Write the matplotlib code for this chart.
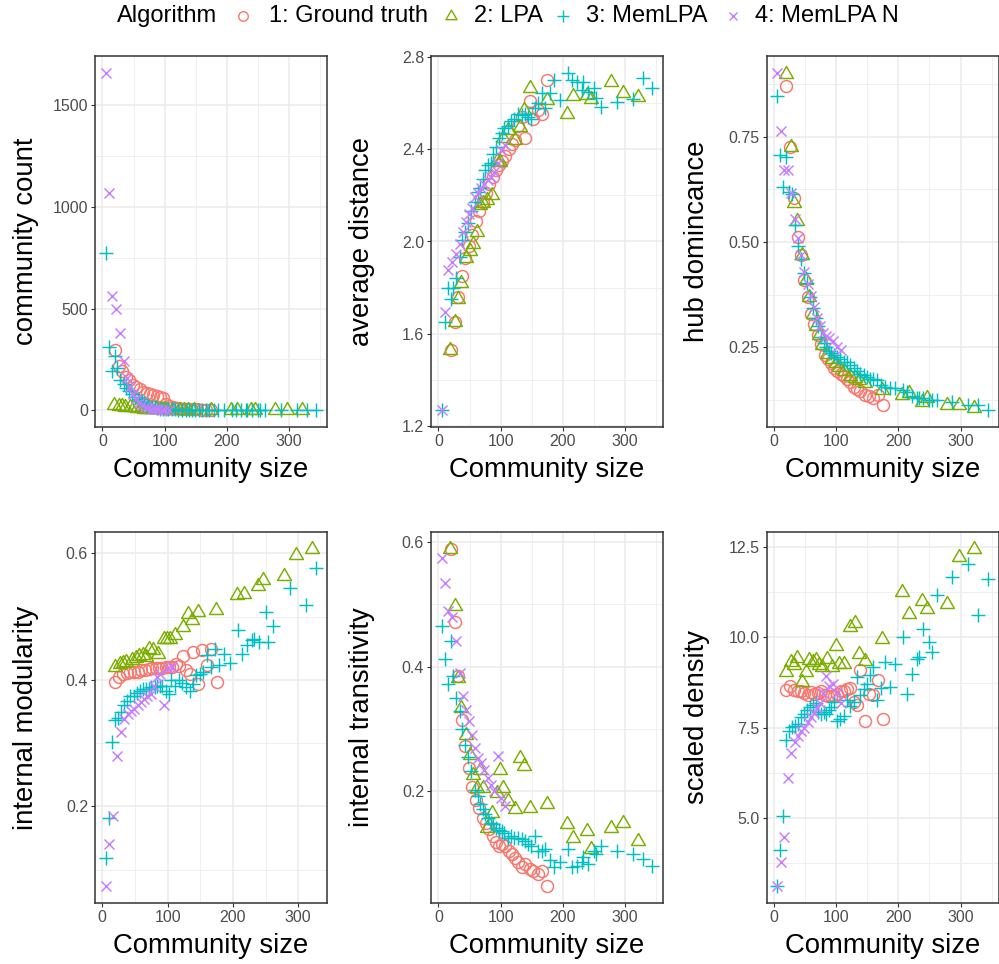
import numpy as np
import matplotlib
matplotlib.use("Agg")
import matplotlib.pyplot as plt
from matplotlib.lines import Line2D
from matplotlib.path import Path

plt.rcParams["font.family"] = ["Liberation Sans", "DejaVu Sans"]

W, H = 999, 964

algorithms = ["1: Ground truth", "2: LPA", "3: MemLPA", "4: MemLPA N"]
colors = ["#F8766D", "#7CAE00", "#00BFC4", "#C77CFF"]

# community sizes for each algorithm
gt_size = [20, 26, 32, 38, 43, 49, 54, 60, 65, 71, 76, 82, 87, 92, 97, 102, 107, 113, 118, 123,
           128, 134, 139, 147, 152, 160, 167, 175]
lpa_size = [19, 27, 32, 37, 45, 51, 56, 62, 67, 72, 78, 86, 94, 99, 104, 112, 123, 131, 137, 147,
            174, 206, 217, 238, 246, 278, 297, 321]
mem_size = [5, 10, 15, 20, 24, 29, 34, 38, 43, 48, 53, 58, 63, 67, 71, 75, 80, 84, 88, 92,
            97, 102, 106, 112, 117, 122, 128, 134, 139, 144, 149, 155, 160, 166, 172, 179, 186, 195, 208, 214,
            222, 230, 233, 240, 250, 254, 262, 287, 312, 328, 344]
mln_size = [5, 11, 16, 22, 28, 34, 39, 44, 49, 54, 59, 64, 69, 74, 79, 84, 89, 95, 101, 107]

# community count
gt_count = [295, 220, 195, 165, 148, 125, 115, 105, 92, 86, 80, 74, 70, 66, 60, 30, 20, 15, 12, 10,
            9, 8, 7, 6, 5, 4, 3, 2]
lpa_count = [25, 22, 20, 18, 16, 14, 12, 10, 9, 8, 7, 6, 5, 5, 4, 4, 3, 3, 3, 2,
             2, 2, 2, 1, 1, 1, 1, 1]
mem_count = [774, 311, 193, 265, 210, 150, 130, 110, 95, 80, 65, 55, 45, 35, 28, 22, 18, 14, 11, 9,
             8, 7, 6, 5, 5, 4, 4, 3, 3, 3, 2, 2, 2, 2, 2, 1, 1, 1, 1, 1,
             1, 1, 1, 1, 1, 1, 1, 1, 1, 1, 1]
mln_count = [1657, 1069, 560, 500, 380, 242, 160, 115, 80, 55, 35, 25, 18, 12, 9, 7, 5, 4, 3, 2]

# average distance
gt_dist = [1.53, 1.65, 1.76, 1.85, 1.93, 1.98, 2.03, 2.09, 2.13, 2.17, 2.21, 2.25, 2.28, 2.31, 2.33, 2.35, 2.37, 2.40, 2.42, 2.44,
           2.50, 2.54, 2.45, 2.61, 2.53, 2.57, 2.55, 2.70]
lpa_dist = [1.53, 1.65, 1.75, 1.82, 1.93, 1.96, 1.99, 2.04, 2.16, 2.165, 2.18, 2.20, 2.35, 2.345, 2.446, 2.482, 2.439, 2.497, 2.569, 2.663,
            2.612, 2.554, 2.630, 2.634, 2.615, 2.692, 2.641, 2.627]
mem_dist = [1.27, 1.652, 1.80, 1.753, 1.80, 1.84, 1.934, 2.006, 2.04, 2.08, 2.13, 2.17, 2.215, 2.23, 2.27, 2.31, 2.33, 2.34, 2.38, 2.41,
            2.45, 2.47, 2.49, 2.50, 2.52, 2.53, 2.55, 2.547, 2.55, 2.54, 2.53, 2.576, 2.60, 2.641, 2.576, 2.641, 2.699, 2.612, 2.73, 2.70,
            2.692, 2.656, 2.692, 2.648, 2.663, 2.62, 2.583, 2.605, 2.619, 2.706, 2.663]
mln_dist = [1.271, 1.695, 1.876, 1.912, 1.948, 1.991, 2.042, 2.085, 2.12, 2.143, 2.193, 2.208, 2.23, 2.25, 2.266, 2.28, 2.302, 2.338, 2.396, 2.417]

# hub dominance
gt_hub = [0.871, 0.726, 0.604, 0.511, 0.47, 0.41, 0.37, 0.33, 0.305, 0.28, 0.257, 0.233, 0.222, 0.212, 0.202, 0.195, 0.187, 0.181, 0.175, 0.168,
          0.157, 0.152, 0.147, 0.137, 0.134, 0.13, 0.137, 0.113]
lpa_hub = [0.90, 0.726, 0.592, 0.55, 0.47, 0.41, 0.37, 0.33, 0.30, 0.28, 0.255, 0.235, 0.222, 0.212, 0.203, 0.193, 0.182, 0.177, 0.172, 0.166,
           0.150, 0.137, 0.141, 0.121, 0.129, 0.113, 0.113, 0.105]
mem_hub = [0.847, 0.706, 0.631, 0.703, 0.62, 0.615, 0.54, 0.49, 0.46, 0.426, 0.402, 0.37, 0.343, 0.32, 0.30, 0.275, 0.26, 0.25, 0.242, 0.237,
           0.232, 0.227, 0.223, 0.216, 0.216, 0.208, 0.202, 0.195, 0.188, 0.185, 0.18, 0.176, 0.176, 0.172, 0.16, 0.155, 0.153, 0.153, 0.148, 0.145,
           0.135, 0.129, 0.131, 0.129, 0.126, 0.125, 0.125, 0.121, 0.113, 0.113, 0.101]
mln_hub = [0.902, 0.764, 0.671, 0.671, 0.617, 0.556, 0.51, 0.47, 0.43, 0.40, 0.372, 0.346, 0.32, 0.30, 0.285, 0.278, 0.272, 0.265, 0.252, 0.244]

# internal modularity (largest MemLPA community has no value)
gt_mod = [0.397, 0.404, 0.409, 0.411, 0.412, 0.413, 0.413, 0.415, 0.416, 0.417, 0.418, 0.418, 0.419, 0.418, 0.42, 0.421, 0.421, 0.425, 0.422, 0.437,
          0.415, 0.41, 0.444, 0.394, 0.447, 0.423, 0.449, 0.397]
lpa_mod = [0.421, 0.425, 0.427, 0.428, 0.432, 0.435, 0.437, 0.439, 0.436, 0.449, 0.447, 0.441, 0.464, 0.465, 0.464, 0.471, 0.483, 0.504, 0.494, 0.508,
           0.510, 0.534, 0.536, 0.548, 0.558, 0.564, 0.597, 0.607]
mem_mod = [0.119, 0.182, 0.301, 0.336, 0.34, 0.349, 0.36, 0.367, 0.374, 0.375, 0.38, 0.383, 0.386, 0.386, 0.386, 0.389, 0.389, 0.39, 0.391, 0.391,
           0.383, 0.378, 0.399, 0.391, 0.399, 0.395, 0.389, 0.383, 0.394, 0.407, 0.41, 0.412, 0.439, 0.42, 0.449, 0.423, 0.441, 0.426, 0.478, 0.441,
           0.455, 0.463, 0.465, 0.46, 0.508, 0.46, 0.485, 0.545, 0.518, 0.576, np.nan]
mln_mod = [0.074, 0.14, 0.185, 0.280, 0.317, 0.338, 0.346, 0.35, 0.354, 0.36, 0.365, 0.37, 0.375, 0.378, 0.39, 0.404, 0.41, 0.36, 0.418, 0.42]

# internal transitivity
gt_trans = [0.589, 0.472, 0.385, 0.315, 0.272, 0.238, 0.207, 0.186, 0.174, 0.158, 0.15, 0.14, 0.128, 0.118, 0.112, 0.116, 0.112, 0.104, 0.099, 0.093,
            0.086, 0.078, 0.083, 0.075, 0.072, 0.068, 0.072, 0.048]
lpa_trans = [0.588, 0.497, 0.382, 0.334, 0.291, 0.259, 0.227, 0.206, 0.235, 0.206, 0.142, 0.166, 0.198, 0.235, 0.206, 0.184, 0.171, 0.254, 0.241, 0.174,
             0.179, 0.147, 0.126, 0.136, 0.107, 0.142, 0.150, 0.120]
mem_trans = [0.465, 0.412, 0.372, 0.441, 0.385, 0.35, 0.329, 0.30, 0.275, 0.255, 0.233, 0.203, 0.193, 0.18, 0.171, 0.163, 0.157, 0.15, 0.147, 0.142,
             0.138, 0.136, 0.134, 0.126, 0.128, 0.126, 0.125, 0.123, 0.120, 0.115, 0.112, 0.128, 0.104, 0.104, 0.107, 0.09, 0.078, 0.086, 0.107, 0.078,
             0.08, 0.086, 0.094, 0.083, 0.104, 0.10, 0.112, 0.104, 0.099, 0.091, 0.080]
mln_trans = [0.575, 0.535, 0.489, 0.48, 0.441, 0.39, 0.353, 0.33, 0.313, 0.29, 0.27, 0.254, 0.245, 0.235, 0.222, 0.211, 0.20, 0.257, 0.19, 0.176]

# scaled density
gt_dens = [8.55, 8.67, 8.55, 8.51, 8.51, 8.46, 8.42, 8.49, 8.44, 8.47, 8.51, 8.42, 8.39, 8.37, 8.39, 8.44, 8.51, 8.53, 8.58, 8.61,
           8.21, 8.12, 9.09, 7.70, 8.44, 8.42, 8.83, 7.75]
lpa_dens = [9.04, 9.32, 9.23, 9.44, 8.76, 9.04, 9.38, 9.32, 9.38, 9.23, 9.18, 9.41, 9.18, 9.75, 9.27, 9.27, 10.29, 10.40, 9.55, 9.36,
            9.96, 11.25, 10.65, 11.02, 10.79, 10.93, 12.22, 12.45]
mem_dens = [3.12, 4.11, 5.05, 7.15, 7.4, 7.52, 7.56, 7.61, 7.80, 7.89, 8.0, 8.07, 8.12, 8.18, 7.95, 7.89, 7.93, 7.89, 8.0, 8.07,
            8.21, 7.70, 7.75, 7.84, 8.26, 8.1, 8.21, 8.90, 8.4, 8.58, 8.72, 8.95, 9.18, 8.26, 8.6, 9.32, 8.63, 9.27, 10.0, 8.44,
            8.99, 9.41, 9.46, 10.24, 9.87, 9.6, 11.16, 11.67, 12.04, 10.61, 11.62]
mln_dens = [3.12, 3.78, 4.47, 6.11, 6.81, 7.1, 7.27, 7.4, 7.5, 7.65, 7.8, 7.92, 8.05, 8.19, 8.47, 8.94, 8.66, 8.72, 8.45, 8.19]

metric_labels = ["community count", "average distance", "hub domincance",
                 "internal modularity", "internal transitivity", "scaled density"]
y_ticks = [[0, 500, 1000, 1500], [1.2, 1.6, 2.0, 2.4, 2.8], [0.25, 0.50, 0.75],
           [0.2, 0.4, 0.6], [0.2, 0.4, 0.6], [5.0, 7.5, 10.0, 12.5]]
y_ticklabels = [["0", "500", "1000", "1500"], ["1.2", "1.6", "2.0", "2.4", "2.8"], ["0.25", "0.50", "0.75"],
                ["0.2", "0.4", "0.6"], ["0.2", "0.4", "0.6"], ["5.0", "7.5", "10.0", "12.5"]]
x_ticks = [0, 100, 200, 300]

sizes = [gt_size, lpa_size, mem_size, mln_size]
metrics = [
    [gt_count, lpa_count, mem_count, mln_count],
    [gt_dist, lpa_dist, mem_dist, mln_dist],
    [gt_hub, lpa_hub, mem_hub, mln_hub],
    [gt_mod, lpa_mod, mem_mod, mln_mod],
    [gt_trans, lpa_trans, mem_trans, mln_trans],
    [gt_dens, lpa_dens, mem_dens, mln_dens],
]

# ggplot-like open shapes: circle, equilateral triangle, plus, cross
tri = Path([(-1, -0.577), (1, -0.577), (0, 1.155), (0, 0)],
           [Path.MOVETO, Path.LINETO, Path.LINETO, Path.CLOSEPOLY])
shapes = [("o", 8.6), (tri, 11.5), ("+", 10.2), ("x", 7.4)]

fig = plt.figure(figsize=(W / 100, H / 100), dpi=100)


def px_box(left, top, width, height):
    return [left / W, 1 - (top + height) / H, width / W, height / H]


def minor_between(ticks):
    step = ticks[1] - ticks[0]
    return np.arange(ticks[0] - step / 2, ticks[-1] + step, step)


panel_left = [95, 431, 766.5]
panel_top = [56, 532]
pw, ph = 232, 371

for i in range(6):
    row, col = divmod(i, 3)
    ax = fig.add_axes(px_box(panel_left[col], panel_top[row], pw, ph))

    xs_all, ys_all = [], []
    for k in range(4):
        x = np.array(sizes[k], dtype=float)
        y = np.array(metrics[i][k], dtype=float)
        ok = ~np.isnan(y)
        xs_all.append(x[ok])
        ys_all.append(y[ok])
        m, ms = shapes[k]
        ax.plot(x[ok], y[ok], ls="none", marker=m, ms=ms, mfc="none",
                mec=colors[k], mew=1.05, zorder=3)

    ax.set_xticks(x_ticks)
    ax.set_xticklabels([str(t) for t in x_ticks])
    ax.set_yticks(y_ticks[i])
    ax.set_yticklabels(y_ticklabels[i])
    ax.set_xticks(minor_between(x_ticks), minor=True)
    ax.set_yticks(minor_between(y_ticks[i]), minor=True)

    # free scales with 5% expansion on each side (set after ticks)
    xa = np.concatenate(xs_all)
    ya = np.concatenate(ys_all)
    dx = (xa.max() - xa.min()) * 0.05
    dy = (ya.max() - ya.min()) * 0.05
    ax.set_xlim(xa.min() - dx, xa.max() + dx)
    ax.set_ylim(ya.min() - dy, ya.max() + dy)

    ax.grid(which="major", color="#EBEBEB", linewidth=1.1, zorder=0)
    ax.grid(which="minor", color="#EBEBEB", linewidth=0.55, zorder=0)
    ax.set_axisbelow(True)
    ax.tick_params(which="major", length=3, width=0.8, color="#333333",
                   labelsize=11.5, labelcolor="#4D4D4D", pad=2)
    ax.tick_params(which="minor", length=0)
    for s in ax.spines.values():
        s.set_color("#333333")
        s.set_linewidth(1.1)

    ax.set_xlabel("Community size", fontsize=19.8, va="center")
    ax.xaxis.set_label_coords(0.5, -43 / ph)
    ax.set_ylabel(metric_labels[i], fontsize=19.8, va="center")
    ax.yaxis.set_label_coords(-69 / pw, 0.5)

# legend row across the top
ly = 1 - 16 / H
fig.text(117 / W, ly, "Algorithm", fontsize=17, va="center", ha="left")
marker_x = [243, 451, 563, 733]
text_x = [269, 474, 586, 755]
for k in range(4):
    m, ms = shapes[k]
    fig.add_artist(Line2D([marker_x[k] / W], [ly], transform=fig.transFigure, ls="none",
                          marker=m, ms=ms * 0.8, mfc="none", mec=colors[k], mew=1.0))
    fig.text(text_x[k] / W, ly, algorithms[k], fontsize=17, va="center", ha="left")

fig.savefig("out.png", dpi=100)
